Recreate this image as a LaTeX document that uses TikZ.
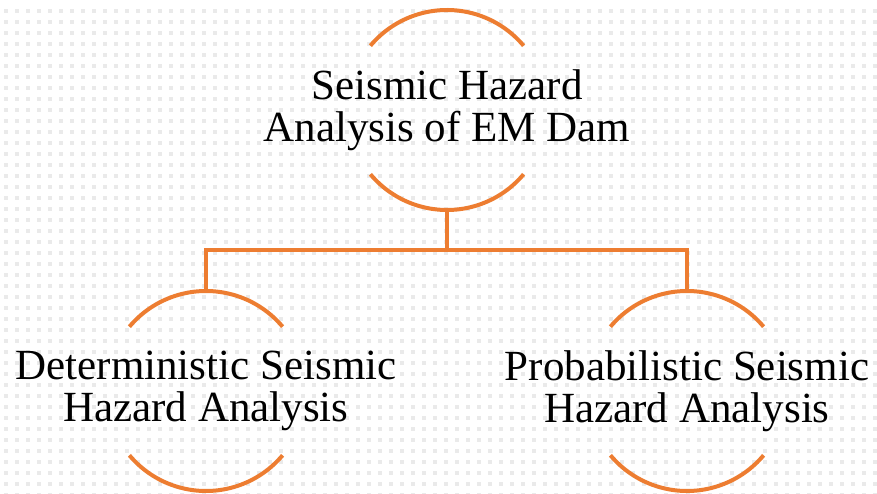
\documentclass[tikz,border=0pt]{standalone}
\usepackage{fontspec}
\setmainfont{Liberation Serif}
\definecolor{accent}{RGB}{237,125,49}
\definecolor{dotc}{RGB}{234,234,234}
\begin{document}
\begin{tikzpicture}[x=1pt,y=-1pt,
  arcline/.style={draw=accent,line width=4pt},
  conn/.style={draw=accent,line width=3.5pt},
  lbl/.style={align=center,font=\fontsize{43}{42}\selectfont,inner sep=0pt}]
\useasboundingbox (0,0) rectangle (877,494);
\fill[white] (0,0) rectangle (877,494);
\foreach \i in {0,...,79}{\foreach \j in {0,...,45}{
  \fill[dotc] (3.5+11*\i,9+11*\j) rectangle +(4,4);}}
% circles (arcs)
\coordinate (ct) at (447,110);
\coordinate (cl) at (206,391);
\coordinate (cr) at (687,391);
\foreach \c in {ct,cl,cr}{
  \draw[arcline] (\c) ++(220:100) arc[start angle=220,end angle=320,radius=100];
  \draw[arcline] (\c) ++(40:100) arc[start angle=40,end angle=140,radius=100];
}
\node[lbl] (top) at (447,110) {Seismic Hazard\\Analysis of EM Dam};
\node[lbl] (left) at (206,391) {Deterministic Seismic\\Hazard Analysis};
\node[lbl] (right) at (687,391) {Probabilistic Seismic\\Hazard Analysis};
\coordinate (tb) at (447,210);
\coordinate (lt) at (206,291);
\coordinate (rt) at (687,291);
\coordinate (mid) at (447,250);
\draw[conn] (tb) -- (mid) -| (lt);
\draw[conn] (mid) -| (rt);
\end{tikzpicture}
\end{document}
